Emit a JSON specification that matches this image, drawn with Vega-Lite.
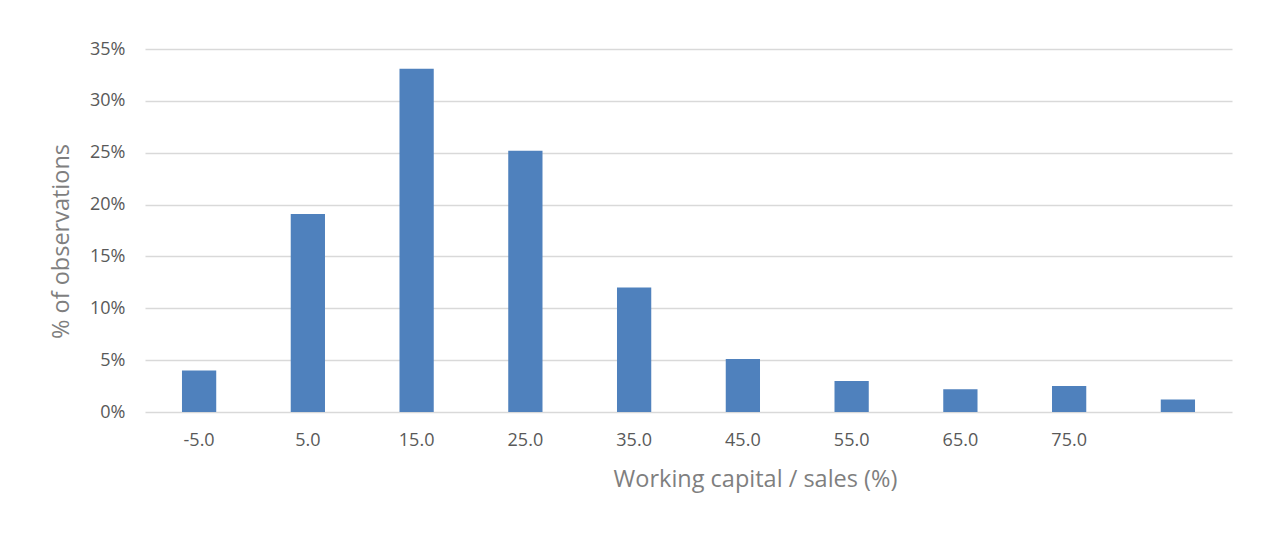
{
  "$schema": "https://vega.github.io/schema/vega-lite/v6.json",
  "autosize": "none",
  "width": 1087,
  "height": 363,
  "padding": {"left": 145, "top": 49, "right": 31, "bottom": 121},
  "background": "white",
  "data": {
    "values": [
      {"bin": "-5.0", "pct": 0.040},
      {"bin": "5.0", "pct": 0.191},
      {"bin": "15.0", "pct": 0.331},
      {"bin": "25.0", "pct": 0.252},
      {"bin": "35.0", "pct": 0.120},
      {"bin": "45.0", "pct": 0.051},
      {"bin": "55.0", "pct": 0.030},
      {"bin": "65.0", "pct": 0.022},
      {"bin": "75.0", "pct": 0.025},
      {"bin": "85.0", "pct": 0.012}
    ]
  },
  "mark": {"type": "bar", "color": "#4f81bd"},
  "encoding": {
    "x": {
      "field": "bin",
      "type": "ordinal",
      "sort": null,
      "scale": {"paddingInner": 0.685, "paddingOuter": 0.34},
      "axis": {
        "title": "Working capital / sales (%)",
        "labelAngle": 0,
        "labelExpr": "datum.value == '85.0' ? '' : datum.label",
        "domain": false,
        "ticks": false,
        "labelPadding": 19,
        "titlePadding": 18,
        "titleX": 610,
        "titleAlign": "center"
      }
    },
    "y": {
      "field": "pct",
      "type": "quantitative",
      "scale": {"domain": [0, 0.35]},
      "axis": {
        "title": "% of observations",
        "format": ".0%",
        "values": [0, 0.05, 0.1, 0.15, 0.2, 0.25, 0.3, 0.35],
        "domain": false,
        "ticks": false,
        "labelPadding": 20,
        "titlePadding": 16,
        "titleY": 192,
        "titleAlign": "center"
      }
    }
  },
  "config": {
    "view": {"stroke": null},
    "font": "Open Sans",
    "axis": {
      "labelFont": "Open Sans",
      "titleFont": "Open Sans",
      "labelFontSize": 18,
      "labelColor": "#595959",
      "titleFontSize": 23.5,
      "titleFontWeight": "normal",
      "titleColor": "#7f7f7f",
      "gridColor": "#d9d9d9",
      "gridWidth": 1.5
    },
    "axisX": {"grid": false}
  }
}
